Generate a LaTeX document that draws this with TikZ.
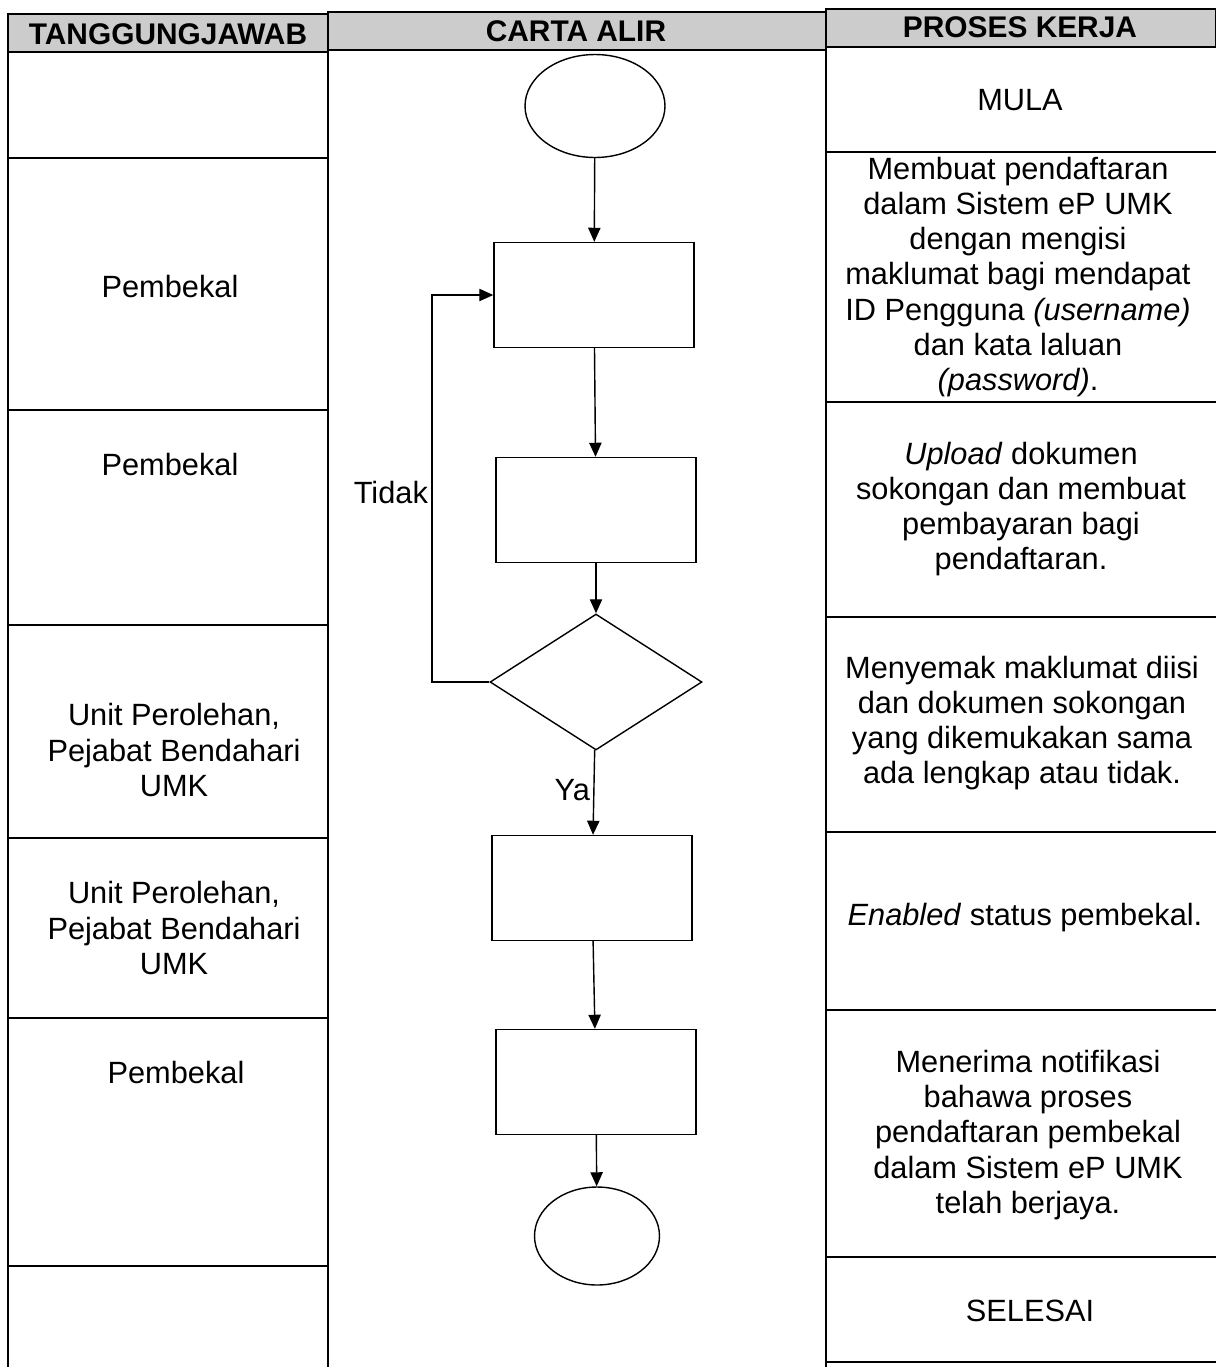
\documentclass[tikz,border=0pt]{standalone}
\usepackage{fontspec}
\setmainfont{Liberation Sans}
\usetikzlibrary{shapes.geometric}
\usetikzlibrary{arrows.meta}
\tikzset{% 
	grid_line/.style={line width=0.9pt}
}
\tikzset{% 
	head_cell/.style={draw,line width=0.9pt,fill=gray!40},
	head_text/.style={font=\bfseries\fontsize{17}{20}\selectfont}
}
\tikzset{% 
	proc_box/.style={draw,line width=0.8pt,minimum width=4cm,minimum height=2.1cm,inner sep=0pt},
	terminal/.style={draw,ellipse,line width=0.8pt,inner sep=0pt},
	check/.style={draw,diamond,line width=0.8pt,inner sep=0pt,minimum width=4.24cm,minimum height=2.72cm},
	flow_arrow/.style={line width=0.8pt,-{Triangle[length=8pt,width=7pt]}}
}
\tikzset{% 
	col_text/.style={align=center,font=\fontsize{17.5}{20}\selectfont}
}

\begin{document}
\begin{tikzpicture}[x=0.02cm,y=-0.02cm]
		\useasboundingbox (0,0) rectangle (1216,1367);

		%Header
		\draw [head_cell] (8,14) rectangle (328,52);
		\draw [head_cell] (328,12) rectangle (826,50);
		\draw [head_cell] (826,9) rectangle (1216,47);
		\node [head_text] (h_tanggung) at (168,34) {TANGGUNGJAWAB};
		\node [head_text] (h_carta) at (576,31) {CARTA ALIR};
		\node [head_text] (h_proses) at (1020,27) {PROSES KERJA};

		%Columns
		\draw [grid_line] (8,52) -- (8,1367);
		\draw [grid_line] (328,52) -- (328,1367);
		\draw [grid_line] (826,47) -- (826,1367);
		\foreach \y in {158,410,625,838,1018,1266}
			\draw [grid_line] (8,\y) -- (328,\y);
		\foreach \y in {152,402,617,832,1010,1257,1362}
			\draw [grid_line] (826,\y) -- (1216,\y);

		%Left column
		\node [col_text] (t_pembekal1) at (170,287) {Pembekal};
		\node [col_text] (t_pembekal2) at (170,465) {Pembekal};
		\node [col_text] (t_unit1) at (174,750) {Unit Perolehan,\\Pejabat Bendahari\\UMK};
		\node [col_text] (t_unit2) at (174,928) {Unit Perolehan,\\Pejabat Bendahari\\UMK};
		\node [col_text] (t_pembekal3) at (176,1072) {Pembekal};

		%Right column
		\node [col_text] (p_mula) at (1020,100) {MULA};
		\node [col_text] (p_daftar) at (1018,277) {Membuat pendaftaran\\dalam Sistem eP UMK\\dengan mengisi\\maklumat bagi mendapat\\ID Pengguna \textit{(username)}\\dan kata laluan\\\textit{(password)}.};
		\node [col_text] (p_upload) at (1021,509) {\textit{Upload} dokumen\\sokongan dan membuat\\pembayaran bagi\\pendaftaran.};
		\node [col_text] (p_semak) at (1022,723) {Menyemak maklumat diisi\\dan dokumen sokongan\\yang dikemukakan sama\\ada lengkap atau tidak.};
		\node [col_text] (p_enable) at (1025,918) {\textit{Enabled} status pembekal.};
		\node [col_text] (p_notis) at (1028,1135) {Menerima notifikasi\\bahawa proses\\pendaftaran pembekal\\dalam Sistem eP UMK\\telah berjaya.};
		\node [col_text] (p_selesai) at (1030,1311) {SELESAI};

		%Flow chart
		\node [terminal,minimum width=2.8cm,minimum height=2.06cm] (mula) at (595,106) {};
		\node [proc_box] (daftar) at (594,295) {};
		\node [proc_box] (upload) at (596,510) {};
		\node [check] (semak) at (596,682) {};
		\node [proc_box] (enable) at (592,888) {};
		\node [proc_box] (notis) at (596,1082) {};
		\node [terminal,minimum width=2.5cm,minimum height=1.96cm] (selesai) at (597,1236) {};
		\coordinate (loop) at (432,682);

		\draw [flow_arrow] (mula) -- (daftar);
		\draw [flow_arrow] (daftar) -- (upload);
		\draw [flow_arrow] (upload) -- (semak);
		\draw [flow_arrow] (semak) -- (enable);
		\draw [flow_arrow] (enable) -- (notis);
		\draw [flow_arrow] (notis) -- (selesai);
		\draw [flow_arrow] (semak.west) -- (loop) |- (daftar.west);

		\node [col_text,anchor=east,inner sep=1pt] (l_tidak) at (430,492) {Tidak};
		\node [col_text,anchor=east,inner sep=1pt] (l_ya) at (592,790) {Ya};

	\end{tikzpicture}
\end{document}
